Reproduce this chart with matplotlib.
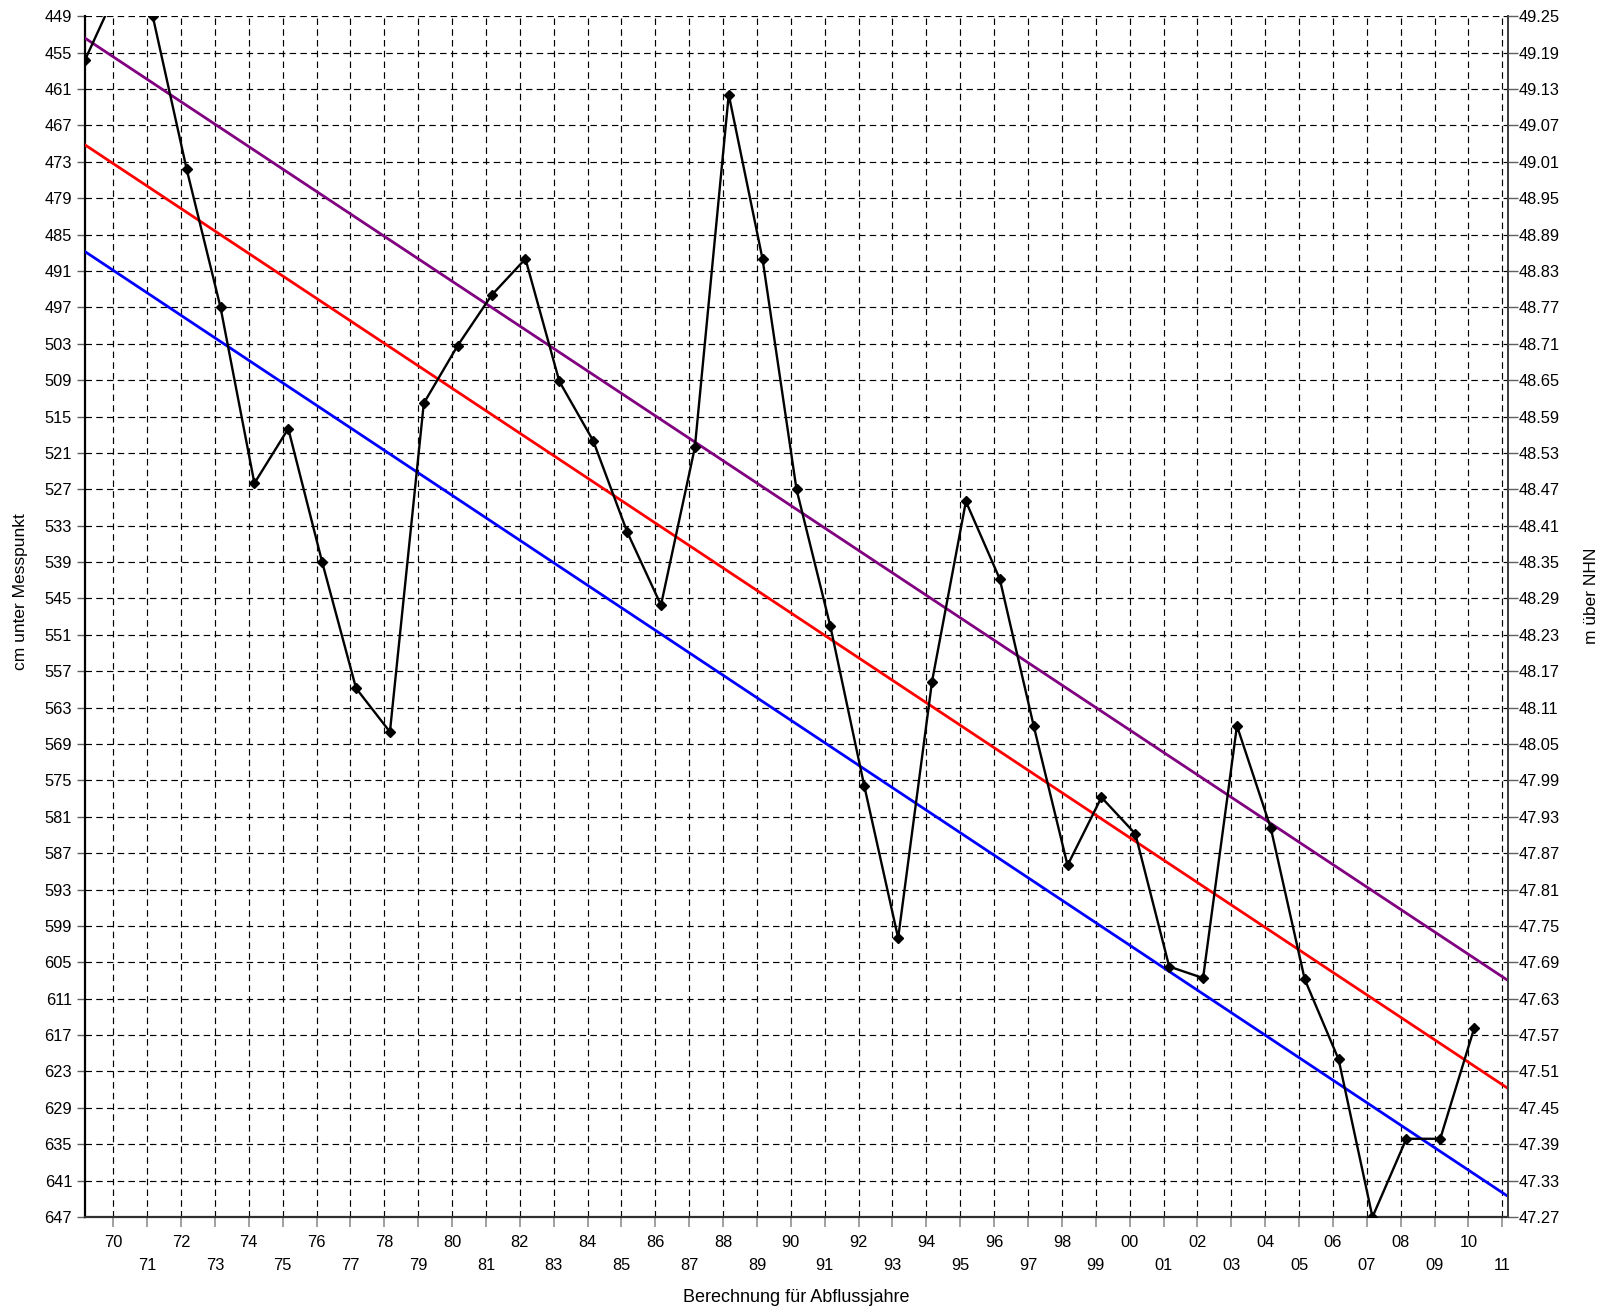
import numpy as np
import matplotlib
matplotlib.use("Agg")
import matplotlib.pyplot as plt

plt.rcParams['font.family'] = ['Liberation Sans', 'DejaVu Sans']

# ---- data ----
years = list(range(1969, 2011))
cm_values = [456.2, 444.0, 449.0, 474.2, 497.0, 526.0, 517.0, 539.0, 559.8, 567.0,
             512.8, 503.3, 495.0, 489.0, 509.2, 519.0, 534.0, 546.1, 520.1, 461.9,
             489.1, 527.0, 549.6, 575.9, 601.0, 558.7, 529.0, 541.8, 566.0, 589.0,
             577.8, 583.8, 605.7, 607.6, 566.0, 582.9, 607.8, 621.0, 647.0, 634.1,
             634.1, 615.9]

trend_years = [1969, 2011]
trend_upper = [452.6, 608.0]   # purple
trend_mid = [470.2, 625.8]     # red
trend_lower = [487.8, 643.6]   # blue

abfluss_years = list(range(1970, 2012))
x_tick_labels = [f"{y % 100:02d}" for y in abfluss_years]

cm_ticks = list(range(449, 648, 6))
m_ticks = [round(53.74 - c / 100.0, 2) for c in cm_ticks]

# ---- figure ----
W, H = 1604, 1311
fig = plt.figure(figsize=(W / 100, H / 100), dpi=100)
ax = fig.add_axes([85 / W, 1 - 1217 / H, (1508 - 85) / W, (1217 - 16.3) / H])

ax.set_xlim(1969, 2011)
ax.set_ylim(647, 449)

# x ticks at start of each Abflussjahr (1 Nov of previous year)
tick_pos = [y - 1 / 6 for y in abfluss_years]
major_pos = [p for p, y in zip(tick_pos, abfluss_years) if y % 2 == 0]
major_lab = [l for l, y in zip(x_tick_labels, abfluss_years) if y % 2 == 0]
minor_pos = [p for p, y in zip(tick_pos, abfluss_years) if y % 2 == 1]
minor_lab = [l for l, y in zip(x_tick_labels, abfluss_years) if y % 2 == 1]
ax.set_xticks(major_pos)
ax.set_xticklabels(major_lab)
ax.set_xticks(minor_pos, minor=True)
ax.set_xticklabels(minor_lab, minor=True)
ax.tick_params(axis='x', which='major', length=7.2, width=1.2, color='#909090',
               pad=6.0, labelsize=11.8)
ax.tick_params(axis='x', which='minor', length=7.2, width=1.2, color='#909090',
               pad=22.5, labelsize=11.8)

ax.set_yticks(cm_ticks)
ax.set_yticklabels([str(c) for c in cm_ticks])
ax.tick_params(axis='y', length=5.8, width=1.0, color='#606060', pad=3.5,
               labelsize=11.8)

# grid
gkw = dict(color='black', linewidth=0.85, linestyle=(0, (5.5, 3.6)), zorder=1)
for p in tick_pos:
    ax.axvline(p, **gkw)
for c in cm_ticks:
    ax.axhline(c, **gkw)

# trend lines
ax.plot(trend_years, trend_upper, color='#800080', lw=2.0, zorder=3)
ax.plot(trend_years, trend_mid, color='#ff0000', lw=2.0, zorder=3)
ax.plot(trend_years, trend_lower, color='#0000ff', lw=2.0, zorder=3)

# data series
ax.plot(years, cm_values, color='black', lw=1.7, marker='D', ms=5.5,
        markerfacecolor='black', markeredgecolor='black', zorder=4)

ax.spines['top'].set_visible(False)
ax.spines['left'].set_linewidth(1.6)
ax.spines['left'].set_color('black')
ax.spines['bottom'].set_linewidth(1.6)
ax.spines['bottom'].set_color('#303030')
ax.spines['right'].set_linewidth(1.4)
ax.spines['right'].set_color('#404040')

# secondary axis
ax2 = ax.twinx()
ax2.set_ylim(47.27, 49.25)
ax2.set_yticks(m_ticks)
ax2.set_yticklabels([f"{m:.2f}" for m in m_ticks])
ax2.tick_params(axis='y', length=7.2, width=1.0, color='#606060', pad=0.8,
                labelsize=11.8)
for s in ['top', 'left', 'bottom']:
    ax2.spines[s].set_visible(False)
ax2.spines['right'].set_linewidth(1.4)
ax2.spines['right'].set_color('#404040')

# axis labels
fig.text(20.5 / W, 1 - 592 / H, "cm unter Messpunkt", rotation=90,
         ha='center', va='center', fontsize=12.5)
fig.text(1592 / W, 1 - 596 / H, "m über NHN", rotation=90,
         ha='center', va='center', fontsize=12.5)
fig.text(796 / W, 1 - 1297 / H, "Berechnung für Abflussjahre",
         ha='center', va='center', fontsize=13)

fig.savefig("out.png", dpi=100)
